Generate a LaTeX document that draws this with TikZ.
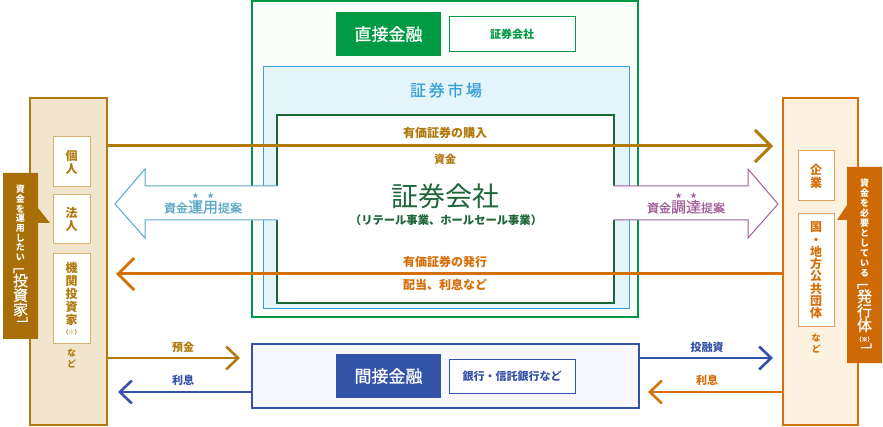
\documentclass[tikz,border=0pt]{standalone}
\usepackage{fontspec}
\setmainfont{Noto Sans CJK JP}
\newfontfamily\medfont[FakeBold=0.7]{Noto Sans CJK JP}
\usetikzlibrary{arrows.meta}
\definecolor{gold}{HTML}{B07A0E}
\definecolor{goldfill}{HTML}{F2E5CE}
\definecolor{goldline}{HTML}{D6B371}
\definecolor{golddark}{HTML}{A86E08}
\definecolor{orng}{HTML}{D5700A}
\definecolor{orngfill}{HTML}{FDF1E0}
\definecolor{orngline}{HTML}{E3A060}
\definecolor{orngdark}{HTML}{CE6A06}
\definecolor{grn}{HTML}{009944}
\definecolor{grnfill}{HTML}{FBFDFB}
\definecolor{dgrn}{HTML}{1C6638}
\definecolor{mkt}{HTML}{3BA1D6}
\definecolor{mktfill}{HTML}{E3F4FA}
\definecolor{navy}{HTML}{3552A9}
\definecolor{navyfill}{HTML}{F7F8FE}
\definecolor{tealc}{HTML}{5AA8C6}
\definecolor{mauve}{HTML}{A15E99}
\newcommand\fsz[1]{\fontsize{#1}{#1}\selectfont}
\newcommand\starover[1]{\ooalign{\hfil\raisebox{1.0em}{\fontsize{6}{6}\selectfont ★}\hfil\cr #1\cr}}
\begin{document}
\begin{tikzpicture}[x=1pt,y=-1pt,
  every node/.style={inner sep=0pt,outer sep=0pt},
  wh/.style 2 args={minimum width=#1,minimum height=#2},
  bigarrow/.style={line width=3pt,-{Straight Barb[length=16pt,width=32pt]}},
  smallarrow/.style={line width=2.6pt,-{Straight Barb[length=12pt,width=23pt]}},
  lbl/.style={font=\bfseries\fsz{11}},
  vtext/.style={align=center,font=\bfseries\fontsize{12}{13}\selectfont}]
\useasboundingbox (0,0) rectangle (883,427);

% ---------------- direct finance ----------------
\node[wh={386}{316},draw=grn,fill=grnfill,line width=1.5pt] (direct) at (445,159) {};
\node[wh={105}{44},fill=grn,text=white,font=\medfont\fsz{17}] (dlabel) at (388.5,34) {直接金融};
\node[wh={126}{35},draw=grn,fill=white,line width=1pt,text=grn,font=\bfseries\fsz{11}] (dsec) at (512,34.5) {証券会社};
\node[wh={366}{242},draw=mkt,fill=mktfill,line width=1pt] (mkt) at (446,188) {};
\node[text=mkt,font=\medfont\fsz{16}] (mkttitle) at (446,90) {証\,券\,市\,場};
\node[wh={337}{188},draw=dgrn,fill=white,line width=1.5pt] (sec) at (445.5,209) {};
\node[text=gold,font=\bfseries\fsz{12}] (buy) at (445,133) {有価証券の購入};
\node[text=gold,font=\bfseries\fsz{11}] (fund) at (445,159) {資金};
\node[text=dgrn,font=\fsz{27}] (secname) at (445,196) {証券会社};
\node[text=dgrn,font=\bfseries\fsz{11.3}] (secsub) at (446,220) {（リテール事業、ホールセール事業）};
\node[text=orng,font=\bfseries\fsz{12}] (issue) at (445,262) {有価証券の発行};
\node[text=orng,font=\bfseries\fsz{12}] (div) at (445,285) {配当、利息など};

% ---------------- indirect finance ----------------
\node[wh={387}{64},draw=navy,fill=navyfill,line width=1.5pt] (indirect) at (445.5,376) {};
\node[wh={105}{44},fill=navy,text=white,font=\medfont\fsz{17}] (ilabel) at (388.5,376) {間接金融};
\node[wh={126}{34},draw=navy,fill=white,line width=1pt,text=navy,font=\bfseries\fsz{11}] (ibank) at (512,376) {銀行・信託銀行など};

% ---------------- investors ----------------
\node[wh={77}{327},draw=gold,fill=goldfill,line width=1.2pt] (inv) at (68.5,261.5) {};
\node[wh={37}{50},draw=goldline,fill=white,line width=1pt,text=gold,vtext] (kojin) at (71.5,162) {個\\人};
\node[wh={37}{49},draw=goldline,fill=white,line width=1pt,text=gold,vtext] (hojin) at (71.5,219.5) {法\\人};
\node[wh={37}{90},draw=goldline,fill=white,line width=1pt,text=gold,vtext] (kikan) at (71.5,299) {機\\関\\投\\資\\家\\[-3pt]{\fsz{6}（※）}};
\node[text=gold,align=center,font=\bfseries\fontsize{9}{11}\selectfont] (invetc) at (71.5,359) {な\\ど};
\fill[golddark] (3,173) -- (38,173) -- (38,208) -- (50,223) -- (38,223) -- (38,339) -- (3,339) -- cycle;
\node[text=white,align=center,font=\bfseries\fontsize{9}{9.7}\selectfont] (invcall1) at (20.5,223) {資\\金\\を\\運\\用\\し\\た\\い};
\node[text=white,align=center,font=\medfont\fontsize{15}{14.5}\selectfont] (invcall2) at (20.5,299) {\reflectbox{﹁}\\投\\資\\家\\\reflectbox{﹂}};

% ---------------- issuers ----------------
\node[wh={75}{327},draw=orng,fill=orngfill,line width=1.2pt] (iss) at (820.5,261.5) {};
\node[wh={36}{50},draw=orngline,fill=white,line width=1pt,text=orng,vtext] (kigyo) at (816,176) {企\\業};
\node[wh={36}{113},draw=orngline,fill=white,line width=1pt,text=orng,vtext,font=\bfseries\fontsize{12}{12.3}\selectfont] (kuni) at (816,270.5) {国\\・\\地\\方\\公\\共\\団\\体};
\node[text=orng,align=center,font=\bfseries\fontsize{9}{11}\selectfont] (issetc) at (816,344) {な\\ど};
\fill[orngdark] (847,167) -- (882,167) -- (882,363) -- (847,363) -- (847,220) -- (837,220) -- (847,205) -- cycle;
\node[text=white,align=center,font=\bfseries\fontsize{9}{9.9}\selectfont] (isscall1) at (864.5,228) {資\\金\\を\\必\\要\\と\\し\\て\\い\\る};
\node[text=white,align=center,font=\medfont\fontsize{15}{14.5}\selectfont] (isscall2) at (864.5,320) {\reflectbox{﹁}\\発\\行\\体\\[-4pt]{\fsz{6}（※）}\\\reflectbox{﹂}};

% ---------------- main flows ----------------
\coordinate (buyL) at (inv.east |- 0,146);
\coordinate (buyR) at (773,146);
\draw[gold,bigarrow] (buyL) -- (buyR);
\coordinate (issR) at (iss.west |- 0,274);
\coordinate (issL) at (116,274);
\draw[orng,bigarrow] (issR) -- (issL);

% fat arrows
\fill[white] (279,186) -- (145,186) -- (145,169) -- (115,204) -- (145,238) -- (145,220) -- (279,220) -- cycle;
\draw[tealc,line width=1pt] (sec.west |- 0,186) -- (145,186) -- (145,169) -- (115,204) -- (145,238) -- (145,220) -- (sec.west |- 0,220);
\node[text=tealc,font=\medfont\fsz{12},anchor=base] (unyo) at (203,212.5) {資金{\fsz{15}\starover{運}\starover{用}}提案};
\fill[white] (612,186) -- (748,186) -- (748,169) -- (778,204) -- (748,238) -- (748,220) -- (612,220) -- cycle;
\draw[mauve,line width=1pt] (sec.east |- 0,186) -- (748,186) -- (748,169) -- (778,204) -- (748,238) -- (748,220) -- (sec.east |- 0,220);
\node[text=mauve,font=\medfont\fsz{12},anchor=base] (chotatsu) at (686,212.5) {資金{\fsz{15}\starover{調}\starover{達}}提案};

% ---------------- indirect flows ----------------
\coordinate (depL) at (inv.east |- 0,358);
\coordinate (depR) at (240,358);
\draw[gold,smallarrow] (depL) -- (depR);
\node[text=gold,lbl] (deplbl) at (183,347) {預金};
\coordinate (intL) at (118,392);
\draw[navy,smallarrow] (indirect.west |- 0,392) -- (intL);
\node[text=navy,lbl] (intlbl) at (183,380) {利息};
\coordinate (loanR) at (773,358);
\draw[navy,smallarrow] (indirect.east |- 0,358) -- (loanR);
\node[text=navy,lbl] (loanlbl) at (707,347) {投融資};
\coordinate (int2L) at (648,392);
\draw[orng,smallarrow] (iss.west |- 0,392) -- (int2L);
\node[text=orng,lbl] (int2lbl) at (707,380) {利息};
\end{tikzpicture}
\end{document}
